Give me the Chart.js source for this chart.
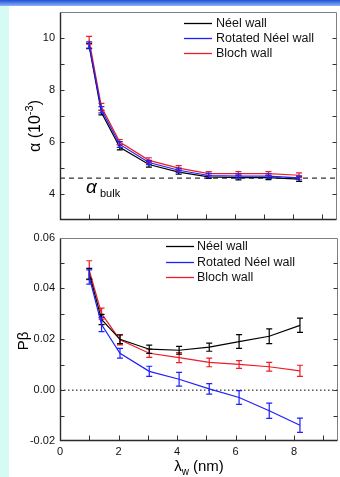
<!DOCTYPE html>
<html>
<head>
<meta charset="utf-8">
<title>Damping and P-beta versus wall width</title>
<script src="https://cdn.jsdelivr.net/npm/chart.js@4.4.1/dist/chart.umd.min.js"></script>
<style>
  html, body { margin: 0; padding: 0; background: #fff; }
  body { width: 340px; height: 477px; position: relative; overflow: hidden; font-family: 'Liberation Sans', Arial, sans-serif; }
  #topBar { position: absolute; left: 0; top: 0; width: 340px; height: 6px; background: linear-gradient(#1d4ed8, #8cb4f5); }
  #sideStrip { position: absolute; left: 0; top: 6px; width: 9px; height: 471px; background: #d6fbf5; }
  .panel { position: absolute; left: 0; width: 340px; }
  #alphaPanel { top: 0; height: 232px; }
  #pbetaPanel { top: 226px; height: 251px; }
</style>
</head>
<body>
<div id="topBar"></div>
<div id="sideStrip"></div>
<div class="panel" id="alphaPanel"><canvas id="alphaChart"></canvas></div>
<div class="panel" id="pbetaPanel"><canvas id="pbetaChart"></canvas></div>

<script>
// wall width lambda_w (nm), shared by every series
var wallWidth = [1.0, 1.42, 2.05, 3.05, 4.07, 5.1, 6.12, 7.15, 8.2];
var seriesNames = ['Néel wall', 'Rotated Néel wall', 'Bloch wall'];
var seriesColors = ['#000000', '#1f1fff', '#ee1c25'];

// damping alpha (10^-3)
var alphaNeel = [9.68, 7.13, 5.80, 5.14, 4.85, 4.67, 4.64, 4.64, 4.58];
var alphaNeelErr = [0.10, 0.09, 0.10, 0.10, 0.08, 0.06, 0.09, 0.08, 0.09];
var alphaRotated = [9.72, 7.24, 5.91, 5.22, 4.92, 4.72, 4.70, 4.70, 4.63];
var alphaRotatedErr = [0.12, 0.12, 0.11, 0.08, 0.08, 0.08, 0.08, 0.08, 0.08];
var alphaBloch = [9.90, 7.35, 6.00, 5.30, 5.00, 4.79, 4.79, 4.79, 4.73];
var alphaBlochErr = [0.15, 0.13, 0.10, 0.10, 0.10, 0.08, 0.08, 0.08, 0.09];
var alphaBulk = 4.62;

// P-beta
var pbetaNeel = [0.0458, 0.0278, 0.0200, 0.0161, 0.0157, 0.0169, 0.0191, 0.0212, 0.0255];
var pbetaNeelErr = [0.0021, 0.0020, 0.0017, 0.0016, 0.0015, 0.0016, 0.0027, 0.0029, 0.0028];
var pbetaRotated = [0.0445, 0.0258, 0.0145, 0.0074, 0.0043, 0.0005, -0.0029, -0.0081, -0.0138];
var pbetaRotatedErr = [0.0028, 0.0028, 0.0019, 0.0020, 0.0027, 0.0021, 0.0027, 0.0030, 0.0028];
var pbetaBloch = [0.0472, 0.0301, 0.0198, 0.0145, 0.0128, 0.0109, 0.0101, 0.0092, 0.0076];
var pbetaBlochErr = [0.0037, 0.0022, 0.0020, 0.0016, 0.0020, 0.0017, 0.0015, 0.0017, 0.0022];
var pbetaZero = 0;

// axes
var wallRange = [0, 9.5];
var wallTickLabels = [0, 2, 4, 6, 8];
var alphaRange = [3, 11];
var alphaTickLabels = [4, 6, 8, 10];
var pbetaRange = [-0.02, 0.06];
var pbetaTickLabels = [-0.02, 0, 0.02, 0.04, 0.06];

var FONT = '"Liberation Sans", Arial, sans-serif';

function points(ys) {
  return wallWidth.map(function(x, i) { return { x: x, y: ys[i] }; });
}

function hasLabel(list, v) {
  return list.some(function(t) { return Math.abs(t - v) < 1e-9; });
}

function series(idx, ys, errs, order) {
  return {
    label: seriesNames[idx],
    data: points(ys),
    errors: errs,
    inLegend: true,
    showLine: true,
    borderColor: seriesColors[idx],
    borderWidth: 1.2,
    pointRadius: 0,
    tension: 0,
    order: order
  };
}

function refLine(y, dash) {
  return {
    label: 'ref',
    data: [{ x: wallRange[0], y: y }, { x: wallRange[1], y: y }],
    showLine: true,
    borderColor: '#000',
    borderWidth: 1,
    borderDash: dash,
    pointRadius: 0,
    order: 9
  };
}

var errorBarPlugin = {
  id: 'errorBars',
  afterDatasetDraw: function(chart, args) {
    var ds = chart.data.datasets[args.index];
    if (!ds.errors) return;
    var xs = chart.scales.x, ys = chart.scales.y, ctx = chart.ctx;
    ctx.save();
    ctx.strokeStyle = ds.borderColor;
    ctx.lineWidth = 1.2;
    ds.data.forEach(function(p, i) {
      var px = xs.getPixelForValue(p.x);
      var top = ys.getPixelForValue(p.y + ds.errors[i]);
      var bot = ys.getPixelForValue(p.y - ds.errors[i]);
      ctx.beginPath();
      ctx.moveTo(px, top); ctx.lineTo(px, bot);
      ctx.moveTo(px - 3, top); ctx.lineTo(px + 3, top);
      ctx.moveTo(px - 3, bot); ctx.lineTo(px + 3, bot);
      ctx.stroke();
    });
    ctx.restore();
  }
};

var framePlugin = {
  id: 'frame',
  afterDraw: function(chart) {
    var a = chart.chartArea, ctx = chart.ctx;
    var xs = chart.scales.x, ys = chart.scales.y;
    var L = Math.round(a.left) + 0.5, R = Math.round(a.right) - 0.5;
    var T = Math.round(a.top) + 0.5, B = Math.round(a.bottom) - 0.5;
    ctx.save();
    ctx.lineWidth = 1;
    ctx.strokeStyle = '#808080';
    ctx.beginPath();
    ctx.moveTo(L, T); ctx.lineTo(R, T); ctx.lineTo(R, B);
    ctx.stroke();

    ctx.strokeStyle = '#333';
    ctx.beginPath();
    xs.ticks.forEach(function(t) {
      if (t.value <= xs.min || t.value >= xs.max) return;
      var px = Math.round(xs.getPixelForValue(t.value)) + 0.5;
      ctx.moveTo(px, B); ctx.lineTo(px, B - 5);
    });
    ys.ticks.forEach(function(t) {
      if (t.value <= ys.min + 1e-9 || t.value >= ys.max - 1e-9) return;
      var py = Math.round(ys.getPixelForValue(t.value)) + 0.5;
      ctx.moveTo(L, py); ctx.lineTo(L + 4, py);
      ctx.moveTo(R, py); ctx.lineTo(R - 4, py);
    });
    ctx.stroke();

    ctx.strokeStyle = '#2a2a2a';
    ctx.lineWidth = 1.4;
    ctx.beginPath();
    ctx.moveTo(L, T); ctx.lineTo(L, B); ctx.lineTo(R, B);
    ctx.stroke();
    ctx.restore();
  }
};

function drawLegend(chart, x, y, gap, step) {
  var ctx = chart.ctx;
  ctx.save();
  ctx.font = '12.5px ' + FONT;
  ctx.textAlign = 'left';
  ctx.textBaseline = 'middle';
  chart.data.datasets.filter(function(d) { return d.inLegend; }).forEach(function(d, i) {
    var ly = Math.round(y + i * step) + 0.5;
    ctx.strokeStyle = d.borderColor;
    ctx.lineWidth = 1.3;
    ctx.beginPath();
    ctx.moveTo(x, ly); ctx.lineTo(x + 28, ly);
    ctx.stroke();
    ctx.fillStyle = '#111';
    ctx.fillText(d.label, x + 28 + gap, ly + 0.5);
  });
  ctx.restore();
}

function drawRotated(ctx, cx, cy, parts) {
  // parts: [text, size, raise]
  ctx.save();
  ctx.translate(cx, cy);
  ctx.rotate(-Math.PI / 2);
  ctx.fillStyle = '#000';
  ctx.textBaseline = 'alphabetic';
  ctx.textAlign = 'left';
  var total = 0;
  parts.forEach(function(p) { ctx.font = p[1] + 'px ' + FONT; p.w = ctx.measureText(p[0]).width; total += p.w; });
  var x = -total / 2;
  parts.forEach(function(p) {
    ctx.font = p[1] + 'px ' + FONT;
    ctx.fillText(p[0], x, 6 - p[2]);
    x += p.w;
  });
  ctx.restore();
}

var alphaExtras = {
  id: 'alphaExtras',
  afterDraw: function(chart) {
    var ctx = chart.ctx;
    drawLegend(chart, 184, 22.5, 4, 15.3);
    drawRotated(ctx, 34, 126, [['α (10', 16, 0], ['-3', 11, 7], [')', 16, 0]]);
    ctx.save();
    ctx.fillStyle = '#000';
    ctx.textBaseline = 'alphabetic';
    ctx.font = 'italic 19px ' + FONT;
    ctx.fillText('α', 86, 193);
    ctx.font = '11px ' + FONT;
    ctx.fillText('bulk', 100, 197);
    ctx.restore();
  }
};

var pbetaExtras = {
  id: 'pbetaExtras',
  afterDraw: function(chart) {
    var ctx = chart.ctx;
    drawLegend(chart, 166, 20, 3, 15.5);
    drawRotated(ctx, 22, 115, [['Pβ', 15, 0]]);
    ctx.save();
    ctx.fillStyle = '#000';
    ctx.textBaseline = 'alphabetic';
    ctx.font = '15px ' + FONT;
    var w1 = ctx.measureText('λ').width;
    var w3 = ctx.measureText(' (nm)').width;
    ctx.font = '10px ' + FONT;
    var w2 = ctx.measureText('w').width;
    var x = 199 - (w1 + w2 + w3) / 2;
    ctx.font = '15px ' + FONT;
    ctx.fillText('λ', x, 245);
    ctx.font = '10px ' + FONT;
    ctx.fillText('w', x + w1, 249);
    ctx.font = '15px ' + FONT;
    ctx.fillText(' (nm)', x + w1 + w2, 245);
    ctx.restore();
  }
};

function baseOptions(yRange, yLabels, showX, pad, xHeight) {
  return {
    responsive: true,
    maintainAspectRatio: false,
    animation: false,
    devicePixelRatio: 1,
    layout: { padding: pad },
    plugins: { legend: { display: false }, tooltip: { enabled: false } },
    scales: {
      x: {
        type: 'linear',
        min: wallRange[0],
        max: wallRange[1],
        afterFit: function(s) { s.height = xHeight; },
        grid: { display: false, drawTicks: false },
        border: { display: false },
        ticks: {
          display: showX,
          stepSize: 1,
          includeBounds: false,
          padding: 4,
          color: '#111',
          font: { family: FONT, size: 11 },
          maxRotation: 0,
          autoSkip: false,
          callback: function(v) { return hasLabel(wallTickLabels, v) ? String(v) : ''; }
        }
      },
      y: {
        type: 'linear',
        min: yRange[0],
        max: yRange[1],
        afterFit: function(s) { s.width = 60; },
        grid: { display: false, drawTicks: false },
        border: { display: false },
        ticks: {
          stepSize: yRange === pbetaRange ? 0.01 : 1,
          includeBounds: false,
          padding: 5,
          color: '#111',
          font: { family: FONT, size: 11 },
          autoSkip: false,
          callback: function(v) {
            if (!hasLabel(yLabels, Math.round(v * 1000) / 1000)) return '';
            return yRange === pbetaRange ? v.toFixed(2) : String(v);
          }
        }
      }
    }
  };
}

new Chart(document.getElementById('alphaChart'), {
  type: 'scatter',
  data: {
    datasets: [
      series(0, alphaNeel, alphaNeelErr, 2),
      series(1, alphaRotated, alphaRotatedErr, 0),
      series(2, alphaBloch, alphaBlochErr, 1),
      refLine(alphaBulk, [5, 4])
    ]
  },
  options: baseOptions(alphaRange, alphaTickLabels, false, { top: 9, right: 3, left: 0, bottom: 0 }, 10),
  plugins: [errorBarPlugin, framePlugin, alphaExtras]
});

new Chart(document.getElementById('pbetaChart'), {
  type: 'scatter',
  data: {
    datasets: [
      series(0, pbetaNeel, pbetaNeelErr, 1),
      series(1, pbetaRotated, pbetaRotatedErr, 0),
      series(2, pbetaBloch, pbetaBlochErr, 2),
      refLine(pbetaZero, [1.5, 2.5])
    ]
  },
  options: baseOptions(pbetaRange, pbetaTickLabels, true, { top: 7, right: 2, left: 0, bottom: 0 }, 36),
  plugins: [errorBarPlugin, framePlugin, pbetaExtras]
});
</script>
</body>
</html>
